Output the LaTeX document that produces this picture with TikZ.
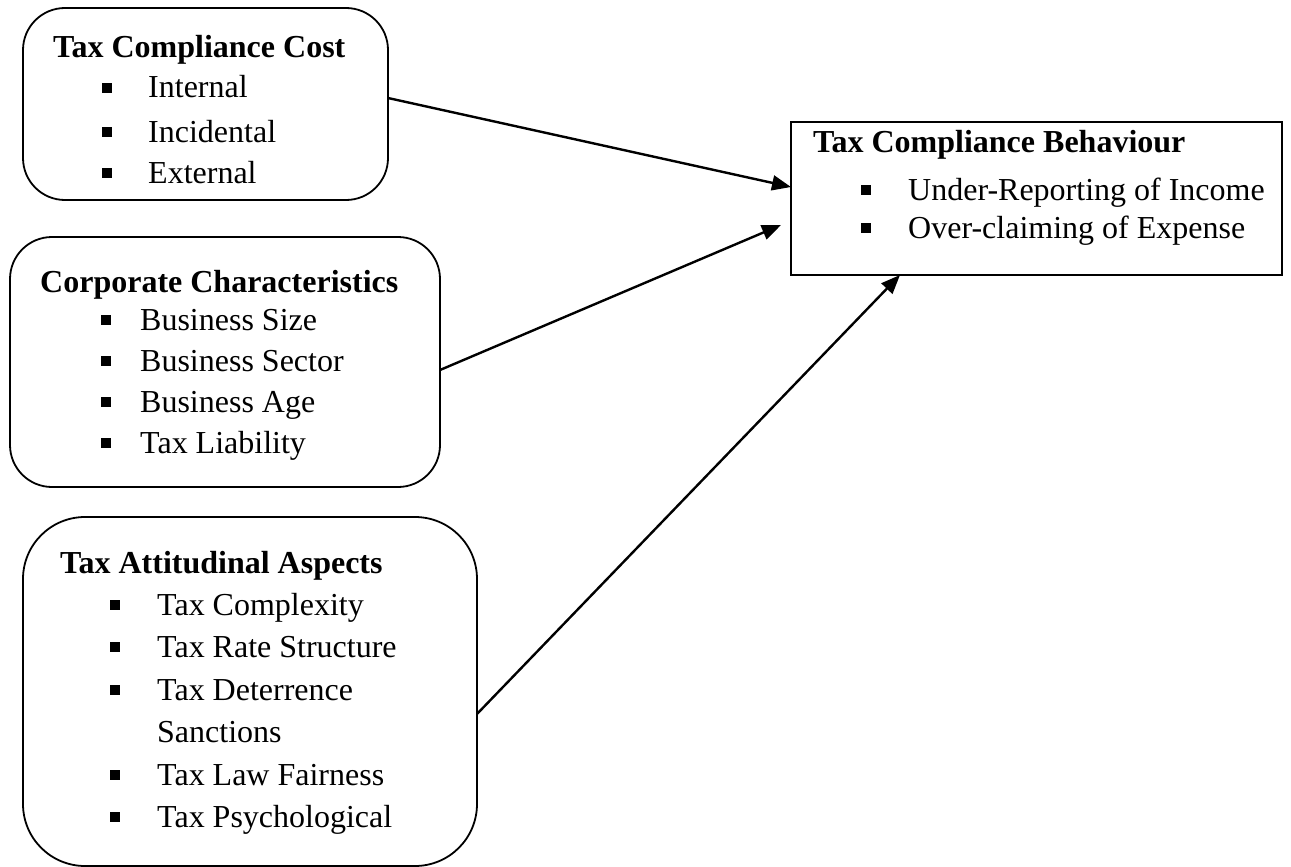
\documentclass[tikz,border=0pt]{standalone}
\usepackage{fontspec}
\setmainfont{Liberation Serif}
\usetikzlibrary{arrows.meta}
\begin{document}
\begin{tikzpicture}[x=1pt,y=-1pt,
  rbox/.style={draw,line width=1.8pt,rounded corners=#1},
  sbox/.style={draw,line width=1.8pt},
  ttl/.style={anchor=base west,inner sep=0pt,font=\fontsize{32}{36}\selectfont\bfseries},
  itm/.style={anchor=base west,inner sep=0pt,font=\fontsize{32}{36}\selectfont},
  bul/.style={fill=black,minimum size=10pt,inner sep=0pt,anchor=center},
  conn/.style={line width=2.4pt,-{Triangle[length=19pt,width=15pt]}}]
\useasboundingbox (0,0) rectangle (1291,867);
% boxes
\draw[rbox=42pt] (23,8) rectangle (388,200);
\draw[rbox=42pt] (10,237) rectangle (440,487);
\draw[rbox=62pt] (23,517) rectangle (477,866);
\draw[sbox] (791,122) rectangle (1282,275);
% box 1
\node[ttl] (t1) at (53,58) {Tax Compliance Cost};
\node[bul] (b11) at (107,88) {}; \node[itm] (i11) at (148,98) {Internal};
\node[bul] (b12) at (107,132) {}; \node[itm] (i12) at (148,142) {Incidental};
\node[bul] (b13) at (107,173) {}; \node[itm] (i13) at (148,183) {External};
% box 2
\node[ttl] (t2) at (40,292) {Corporate Characteristics};
\node[bul] (b21) at (106,320) {}; \node[itm] (i21) at (140,330) {Business Size};
\node[bul] (b22) at (106,361) {}; \node[itm] (i22) at (140,371) {Business Sector};
\node[bul] (b23) at (106,402) {}; \node[itm] (i23) at (140,412) {Business Age};
\node[bul] (b24) at (106,443) {}; \node[itm] (i24) at (140,453) {Tax Liability};
% box 3
\node[ttl] (t3) at (60,573) {Tax Attitudinal Aspects};
\node[bul] (b31) at (115,605) {}; \node[itm] (i31) at (157,615) {Tax Complexity};
\node[bul] (b32) at (115,647) {}; \node[itm] (i32) at (157,657) {Tax Rate Structure};
\node[bul] (b33) at (115,690) {}; \node[itm] (i33) at (157,700) {Tax Deterrence};
\node[itm] (i34) at (157,742) {Sanctions};
\node[bul] (b35) at (115,775) {}; \node[itm] (i35) at (157,785) {Tax Law Fairness};
\node[bul] (b36) at (115,817) {}; \node[itm] (i36) at (157,827) {Tax Psychological};
% box 4
\node[ttl] (t4) at (813,152) {Tax Compliance Behaviour};
\node[bul] (b41) at (866,190) {}; \node[itm] (i41) at (908,200) {Under-Reporting of Income};
\node[bul] (b42) at (866,228) {}; \node[itm] (i42) at (908,238) {Over-claiming of Expense};
% connectors
\coordinate (s1) at (388,98);
\coordinate (e1) at (791,187);
\coordinate (s2) at (440,370);
\coordinate (e2) at (781,225);
\coordinate (s3) at (477,714);
\coordinate (e3) at (900,275);
\draw[conn] (s1) -- (e1);
\draw[conn] (s2) -- (e2);
\draw[conn] (s3) -- (e3);
\end{tikzpicture}
\end{document}
